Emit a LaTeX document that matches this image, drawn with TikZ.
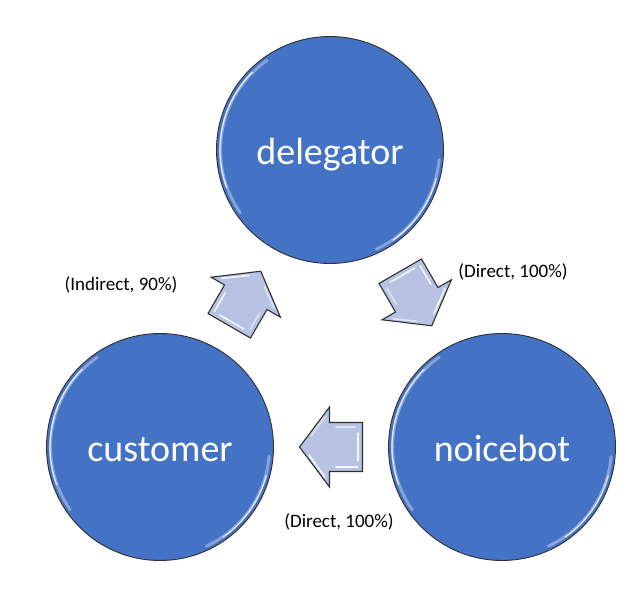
\documentclass[tikz,border=0pt]{standalone}
\usepackage{fontspec}
\setmainfont{Carlito}
\usetikzlibrary{calc}
\definecolor{circblue}{HTML}{4472C4}
\definecolor{arrowfill}{HTML}{B8C3E3}
\definecolor{edgegray}{HTML}{303030}
\tikzset{
  bubble/.style={circle, minimum size=227pt, inner sep=0pt, fill=circblue,
    draw=edgegray, line width=0.9pt, text=white, font=\fontsize{38}{40}\selectfont,
    text height=29pt, text depth=0pt},
  lbl/.style={font=\fontsize{19}{21}\selectfont, text=black, inner sep=0pt},
  shine/.style={white, line width=3pt, opacity=0.35, line cap=round},
  shinecore/.style={white, line width=1.2pt, opacity=0.8, line cap=round},
  blockarrow/.pic={
    \fill[arrowfill] (-31.5,-24.5) -- (1.5,-24.5) -- (1.5,-40) -- (31.5,0) -- (1.5,40) -- (1.5,24.5) -- (-31.5,24.5) -- cycle;
    \draw[white, line width=1.6pt, opacity=0.85, line cap=round, line join=round]
      (-26.5,-20) -- (-5,-20) (6,-30) -- (22,-8) (-27,-14) -- (-27,14);
    \draw[white, line width=1.6pt, opacity=0.55, line cap=round]
      (-24,20) -- (-5,20) (6,30) -- (20,11);
    \draw[edgegray, line width=1.1pt, line join=miter] (-31.5,-24.5) -- (1.5,-24.5) -- (1.5,-40) -- (31.5,0) -- (1.5,40) -- (1.5,24.5) -- (-31.5,24.5) -- cycle;
  }
}
\begin{document}
\begin{tikzpicture}[x=1pt,y=-1pt]
\useasboundingbox (0,0) rectangle (640,604);
\node[bubble] (delegator) at (330,150) {delegator};
\node[bubble] (customer) at (160,447) {customer};
\node[bubble] (noicebot) at (502,447) {noicebot};
\foreach \n in {delegator,customer,noicebot}{
  \draw[shine] ($(\n.center)+(125:109.5pt)$) arc[start angle=125, end angle=215, radius=109.5pt];
  \draw[shinecore] ($(\n.center)+(135:110pt)$) arc[start angle=135, end angle=200, radius=110pt];
  \draw[shine] ($(\n.center)+(-5:109.5pt)$) arc[start angle=-5, end angle=-65, radius=109.5pt];
  \draw[shinecore] ($(\n.center)+(-15:110pt)$) arc[start angle=-15, end angle=-55, radius=110pt];
}
\path ($(customer)!0.5!(delegator)$) pic[rotate=60] {blockarrow};
\path ($(delegator)!0.5!(noicebot)$) pic[rotate=-60] {blockarrow};
\path ($(noicebot)!0.5!(customer)$) pic[rotate=180] {blockarrow};
\node[lbl] (l1) at (121,285) {(Indirect, 90\%)};
\node[lbl] (l2) at (513,272) {(Direct, 100\%)};
\node[lbl] (l3) at (339,522) {(Direct, 100\%)};
\end{tikzpicture}
\end{document}
